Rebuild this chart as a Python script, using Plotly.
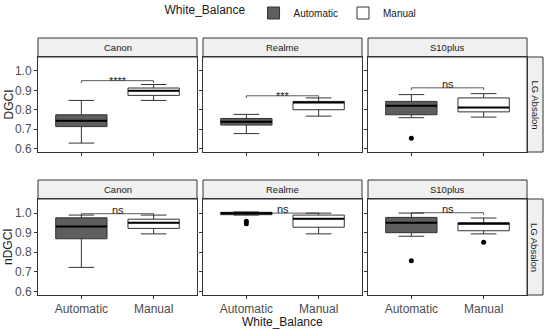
import plotly.graph_objects as go

# ---------------- data ----------------
panels = ["Canon", "Realme", "S10plus"]
row_vars = ["DGCI", "nDGCI"]
categories = ["Automatic", "Manual"]
row_strip = "LG Absalon"
y_ticks = [0.6, 0.7, 0.8, 0.9, 1.0]
y_tick_labels = ["0.6", "0.7", "0.8", "0.9", "1.0"]

# box stats per row -> panel -> category : [lowerfence, q1, median, q3, upperfence]
dgci_auto = {"Canon": [0.628, 0.713, 0.743, 0.774, 0.848],
             "Realme": [0.677, 0.721, 0.738, 0.755, 0.776],
             "S10plus": [0.759, 0.774, 0.821, 0.843, 0.878]}
dgci_manual = {"Canon": [0.848, 0.874, 0.898, 0.912, 0.930],
               "Realme": [0.767, 0.800, 0.837, 0.843, 0.861],
               "S10plus": [0.762, 0.789, 0.811, 0.861, 0.883]}
ndgci_auto = {"Canon": [0.723, 0.869, 0.932, 0.976, 0.990],
              "Realme": [0.990, 0.992, 0.999, 1.004, 1.006],
              "S10plus": [0.882, 0.900, 0.951, 0.978, 1.000]}
ndgci_manual = {"Canon": [0.894, 0.922, 0.951, 0.969, 0.990],
                "Realme": [0.894, 0.928, 0.971, 0.990, 1.000],
                "S10plus": [0.894, 0.910, 0.946, 0.951, 0.975]}

dgci_out_auto = {"Canon": [], "Realme": [], "S10plus": [0.653]}
dgci_out_manual = {"Canon": [], "Realme": [], "S10plus": []}
ndgci_out_auto = {"Canon": [], "Realme": [0.958, 0.946], "S10plus": [0.757]}
ndgci_out_manual = {"Canon": [], "Realme": [], "S10plus": [0.851]}

dgci_bracket = {"Canon": 0.950, "Realme": 0.872, "S10plus": 0.913}
ndgci_bracket = {"Canon": 0.997, "Realme": 1.000, "S10plus": 1.002}
dgci_sig = {"Canon": "****", "Realme": "***", "S10plus": "ns"}
ndgci_sig = {"Canon": "ns", "Realme": "ns", "S10plus": "ns"}

stats = {"DGCI": {"Automatic": dgci_auto, "Manual": dgci_manual},
         "nDGCI": {"Automatic": ndgci_auto, "Manual": ndgci_manual}}
outliers = {"DGCI": {"Automatic": dgci_out_auto, "Manual": dgci_out_manual},
            "nDGCI": {"Automatic": ndgci_out_auto, "Manual": ndgci_out_manual}}
brackets = {"DGCI": dgci_bracket, "nDGCI": ndgci_bracket}
sigs = {"DGCI": dgci_sig, "nDGCI": ndgci_sig}

# ---------------- style / layout ----------------
W, H = 550, 330
FONT = "Liberation Sans, Arial, sans-serif"
fills = {"Automatic": "#5E5E5E", "Manual": "#FFFFFF"}
BORDER = "#333333"
STRIP_FILL = "#F0F0F0"
BOX_W = 0.71
TIP = 0.012
Y_RANGE = [0.582, 1.072]

col_px = [(38, 197), (203, 362), (368, 527)]
row_px = [(57, 152), (199, 295)]          # plot area top/bottom (screen px)
strip_px = [(38, 57), (180, 199)]          # strip top/bottom
rstrip_px = (527, 543)

def px_x(v):
    return v / W

def px_y(v):
    return 1 - v / H

def centered(d):
    d.update(xanchor="center", yanchor="middle", showarrow=False)
    return d

fig = go.Figure()
layout = dict(width=W, height=H, margin=dict(l=0, r=0, t=0, b=0, autoexpand=False),
              paper_bgcolor="white", plot_bgcolor="white",
              font=dict(family=FONT, color="#1A1A1A"),
              boxmode="overlay", showlegend=True)
shapes = []
annotations = []

for r, var in enumerate(row_vars):
    for c, p in enumerate(panels):
        k = r * 3 + c + 1
        xa, ya = f"x{k}", f"y{k}"
        xname, yname = f"xaxis{k}", f"yaxis{k}"
        layout[xname] = dict(domain=[px_x(col_px[c][0]), px_x(col_px[c][1])],
                             anchor=ya, type="category", automargin=False,
                             categoryorder="array", categoryarray=categories,
                             range=[-0.6, 1.6], showline=True, mirror=True,
                             linecolor=BORDER, linewidth=1, showgrid=False,
                             zeroline=False, ticks="outside", ticklen=3,
                             tickcolor=BORDER, showticklabels=(r == 1),
                             tickfont=dict(size=12, color="#4D4D4D"))
        layout[yname] = dict(domain=[px_y(row_px[r][1]), px_y(row_px[r][0])],
                             anchor=xa, range=Y_RANGE, tickvals=y_ticks,
                             automargin=False,
                             ticktext=y_tick_labels, showline=True, mirror=True,
                             linecolor=BORDER, linewidth=1, showgrid=False,
                             zeroline=False, ticks="outside", ticklen=3,
                             tickcolor=BORDER, showticklabels=(c == 0),
                             tickfont=dict(size=12, color="#4D4D4D"))
        # significance bracket (below boxes)
        by = brackets[var][p]
        for (x0, y0, x1, y1) in [(0, by - TIP, 0, by), (0, by, 1, by), (1, by, 1, by - TIP)]:
            shapes.append(dict(type="line", xref=xa, yref=ya, x0=x0, y0=y0, x1=x1, y1=y1,
                               line=dict(color="#333333", width=0.8), layer="below"))
        label = sigs[var][p]
        annotations.append(dict(xref=xa, yref=ya, x=0.5, y=by, text=label,
                                showarrow=False, xanchor="center", yanchor="bottom",
                                yshift=(-8 if "*" in label else -4),
                                font=dict(size=11, color="#1A1A1A")))
        for i, cat in enumerate(categories):
            lf, q1, med, q3, uf = stats[var][cat][p]
            fig.add_trace(go.Box(x=[cat], lowerfence=[lf], q1=[q1], median=[med],
                                 q3=[q3], upperfence=[uf], width=BOX_W,
                                 fillcolor=fills[cat], name=cat, legendgroup=cat,
                                 showlegend=(k == 1), boxpoints=False,
                                 line=dict(color=BORDER, width=1),
                                 xaxis=xa, yaxis=ya, hoverinfo="skip"))
            # thicker median line like ggplot
            shapes.append(dict(type="line", xref=xa, yref=ya,
                               x0=i - BOX_W / 2, x1=i + BOX_W / 2, y0=med, y1=med,
                               line=dict(color="black", width=2), layer="above"))
            outs = outliers[var][cat][p]
            if outs:
                fig.add_trace(go.Scatter(x=[cat] * len(outs), y=outs, mode="markers",
                                         marker=dict(color="black", size=5),
                                         showlegend=False, xaxis=xa, yaxis=ya,
                                         hoverinfo="skip"))
        # top strip
        st, sb = strip_px[r]
        shapes.append(dict(type="rect", xref="paper", yref="paper",
                           x0=px_x(col_px[c][0]), x1=px_x(col_px[c][1]),
                           y0=px_y(sb), y1=px_y(st), fillcolor=STRIP_FILL,
                           line=dict(color=BORDER, width=1), layer="below"))
        annotations.append(centered(dict(xref="paper", yref="paper",
                                x=px_x((col_px[c][0] + col_px[c][1]) / 2),
                                y=px_y((st + sb) / 2), text=p,
                                font=dict(size=9.5, color="#1A1A1A"))))
    # right strip
    shapes.append(dict(type="rect", xref="paper", yref="paper",
                       x0=px_x(rstrip_px[0]), x1=px_x(rstrip_px[1]),
                       y0=px_y(row_px[r][1]), y1=px_y(row_px[r][0]),
                       fillcolor=STRIP_FILL, line=dict(color=BORDER, width=1),
                       layer="below"))
    annotations.append(centered(dict(xref="paper", yref="paper",
                            x=px_x((rstrip_px[0] + rstrip_px[1]) / 2),
                            y=px_y((row_px[r][0] + row_px[r][1]) / 2),
                            text=row_strip, textangle=90,
                            font=dict(size=9.5, color="#1A1A1A"))))
    # y title
    annotations.append(centered(dict(xref="paper", yref="paper", x=px_x(8),
                            y=px_y((row_px[r][0] + row_px[r][1]) / 2),
                            text=var, textangle=-90,
                            font=dict(size=12, color="#1A1A1A"))))

# x title
annotations.append(centered(dict(xref="paper", yref="paper", x=px_x((38 + 527) / 2),
                        y=px_y(322), text="White_Balance",
                        font=dict(size=12, color="#1A1A1A"))))

layout["shapes"] = shapes
layout["annotations"] = annotations
layout["legend"] = dict(orientation="h", x=px_x(292), xanchor="center", y=px_y(13),
                        yanchor="middle", itemwidth=30, tracegroupgap=0,
                        title=dict(text="White_Balance", side="left",
                                   font=dict(size=12, color="#1A1A1A")),
                        font=dict(size=10, color="#1A1A1A"))
fig.update_layout(**layout)
# remove the browser's default 8px body margin so the figure sits at the page origin
fig.write_html("out.html", config={"displayModeBar": False},
               post_script="document.body.style.margin='0px';")
